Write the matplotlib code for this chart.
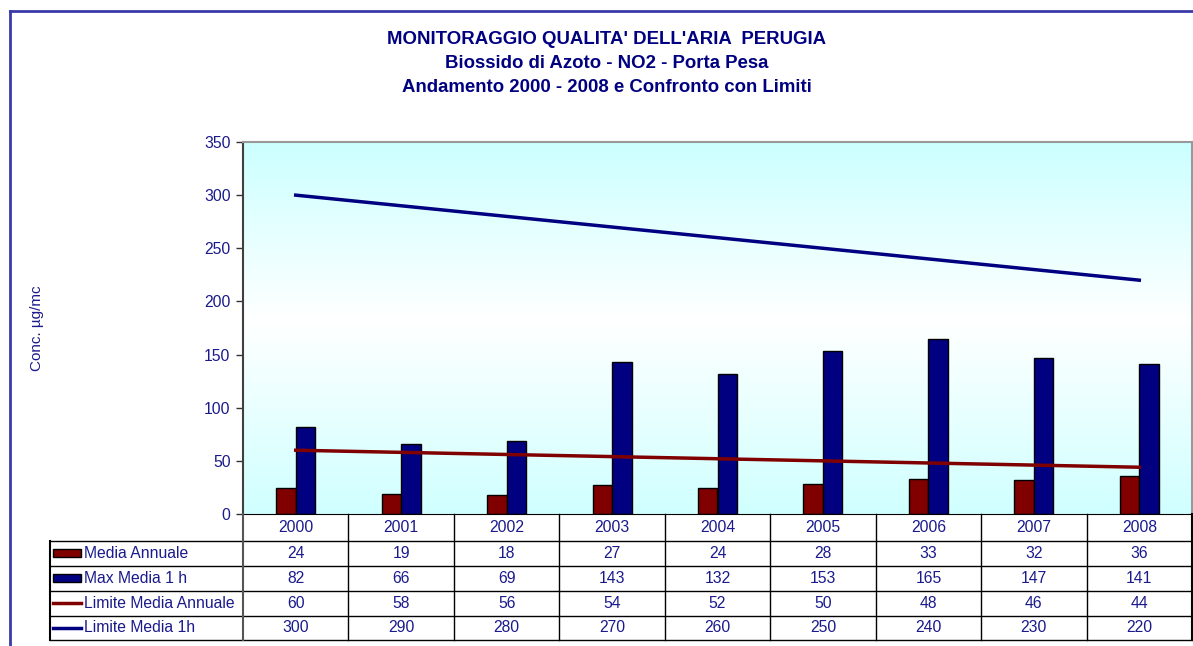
import numpy as np
import matplotlib
matplotlib.use("Agg")
import matplotlib.pyplot as plt
from matplotlib.colors import LinearSegmentedColormap
from matplotlib.patches import Rectangle
from matplotlib.lines import Line2D

plt.rcParams["font.family"] = ["Liberation Sans", "DejaVu Sans"]

# data
years = ["2000", "2001", "2002", "2003", "2004", "2005", "2006", "2007", "2008"]
media_annuale = [24, 19, 18, 27, 24, 28, 33, 32, 36]
max_media_1h = [82, 66, 69, 143, 132, 153, 165, 147, 141]
limite_media_annuale = [60, 58, 56, 54, 52, 50, 48, 46, 44]
limite_media_1h = [300, 290, 280, 270, 260, 250, 240, 230, 220]

series_names = ["Media Annuale", "Max Media 1 h", "Limite Media Annuale", "Limite Media 1h"]
title_lines = [
    "MONITORAGGIO QUALITA' DELL'ARIA  PERUGIA",
    "Biossido di Azoto - NO2 - Porta Pesa",
    "Andamento 2000 - 2008 e Confronto con Limiti",
]

NAVY = "#000080"
DARKRED = "#800000"
TXT = "#1a1a8c"
FS = 11.3

W, H = 1193, 646
fig = plt.figure(figsize=(W / 100, H / 100), dpi=100)


def fx(px):
    return px / W


def fy(py):
    return 1 - py / H


# outer frame (only left and top visible)
fig.add_artist(Line2D([fx(10), fx(10)], [fy(11), 0], color="#3a3aa8", lw=2))
fig.add_artist(Line2D([fx(10), 1], [fy(11), fy(11)], color="#3a3aa8", lw=2))

# titles
for i, line in enumerate(title_lines):
    fig.text(fx(607), fy(40 + i * 23.5), line, ha="center", va="center",
             fontsize=13.4, fontweight="bold", color=NAVY)

left, right, top, bottom = 243, 1192, 142, 514
ax = fig.add_axes([fx(left), fy(bottom), fx(right - left), (bottom - top) / H])

# background gradient: cyan -> white -> cyan
grad_cmap = LinearSegmentedColormap.from_list(
    "bg", [(0, "#ccffff"), (0.48, "#ffffff"), (1, "#d0ffff")])
ax.imshow(np.linspace(0, 1, 256).reshape(-1, 1), cmap=grad_cmap, aspect="auto",
          extent=[0, 1, 0, 1], transform=ax.transAxes, zorder=0)

x = np.arange(len(years))
bw = 0.185
ax.bar(x - bw / 2, media_annuale, bw, color=DARKRED, edgecolor="black", lw=1, zorder=2)
ax.bar(x + bw / 2, max_media_1h, bw, color=NAVY, edgecolor="black", lw=1, zorder=2)
ax.plot(x, limite_media_annuale, color=DARKRED, lw=2.5, zorder=3)
ax.plot(x, limite_media_1h, color=NAVY, lw=2.5, zorder=3)

ax.set_xlim(-0.5, len(years) - 0.5)
ax.set_ylim(0, 350)
ax.set_yticks(np.arange(0, 351, 50))
ax.set_xticks([])
ax.tick_params(axis="y", direction="out", length=5, width=1, colors="#333333",
               labelcolor=TXT, labelsize=FS, pad=4)
ax.spines["left"].set_color("#404040")
ax.spines["left"].set_linewidth(1.5)
ax.spines["bottom"].set_color("black")
ax.spines["top"].set_color("#999999")
ax.spines["right"].set_color("#999999")
ax.spines["top"].set_linewidth(1.5)
ax.spines["right"].set_linewidth(1.5)

fig.text(fx(37), fy(328), "Conc. µg/mc", rotation=90, ha="center", va="center",
         fontsize=11, color=TXT)

# data table below the axis
row_edges = [514, 540.5, 565.7, 590.7, 615.7, 640]
col_edges = [left + (right - left) * i / len(years) for i in range(len(years) + 1)]
tab_left = 50

for ry in row_edges[1:]:
    fig.add_artist(Line2D([fx(tab_left), fx(right)], [fy(ry), fy(ry)], color="black", lw=1))
for i, cx in enumerate(col_edges):
    c = "#555555" if i == 0 else "black"
    lw = 1.5 if i in (0, len(col_edges) - 1) else 1
    fig.add_artist(Line2D([fx(cx), fx(cx)], [fy(514), fy(640)], color=c, lw=lw))
fig.add_artist(Line2D([fx(tab_left), fx(tab_left)], [fy(540.5), fy(640)], color="black", lw=1.5))

# header row (years)
for i, yr in enumerate(years):
    xc = (col_edges[i] + col_edges[i + 1]) / 2
    fig.text(fx(xc), fy((row_edges[0] + row_edges[1]) / 2), yr, ha="center", va="center",
             fontsize=FS, color=TXT)

table_rows = [media_annuale, max_media_1h, limite_media_annuale, limite_media_1h]
key_colors = [DARKRED, NAVY, DARKRED, NAVY]
for r, (name, vals) in enumerate(zip(series_names, table_rows)):
    yc = (row_edges[r + 1] + row_edges[r + 2]) / 2
    if r < 2:
        fig.add_artist(Rectangle((fx(53), fy(yc + 4)), fx(28), 8 / H, facecolor=key_colors[r],
                                 edgecolor="black", lw=1))
    else:
        fig.add_artist(Line2D([fx(53), fx(81)], [fy(yc), fy(yc)], color=key_colors[r], lw=2.5))
    fig.text(fx(84), fy(yc), name, ha="left", va="center", fontsize=FS, color=TXT)
    for i, v in enumerate(vals):
        xc = (col_edges[i] + col_edges[i + 1]) / 2
        fig.text(fx(xc), fy(yc), str(v), ha="center", va="center", fontsize=FS, color=TXT)

fig.savefig("out.png", dpi=100)
